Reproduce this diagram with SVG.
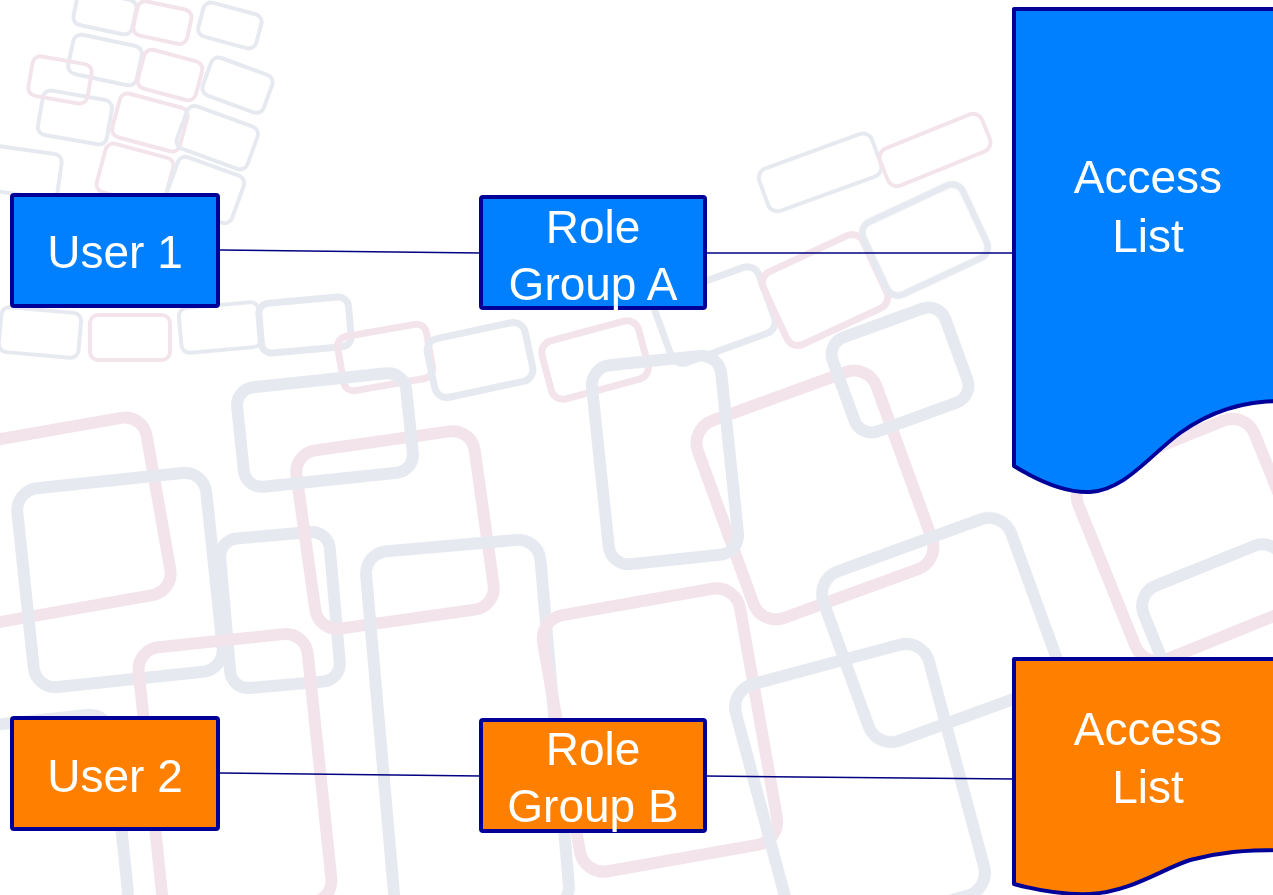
<svg xmlns="http://www.w3.org/2000/svg" width="1273" height="895" viewBox="0 0 1273 895">
<style>
.bg rect{fill:none;}
.g{stroke:#e3e6ee;}
.p{stroke:#f1e0e9;}
.s{stroke-width:4;}
.m{stroke-width:7;}
.l{stroke-width:12;}
.node{stroke:#000099;stroke-width:4;stroke-linejoin:round;}
.blue{fill:#0080ff;}
.orange{fill:#ff8000;}
.lbl{font-family:"Liberation Sans",Arial,sans-serif;font-size:46px;fill:#ffffff;text-anchor:middle;}
.conn{stroke:#000080;stroke-width:1.5;fill:none;}
</style>
<rect width="1273" height="895" fill="#ffffff"/>
<g id="background" class="bg" opacity="0.85">
<rect class="g s" x="75" y="-5" width="60" height="35" rx="8" transform="rotate(12 105 12)"/>
<rect class="p s" x="135" y="5" width="55" height="35" rx="8" transform="rotate(12 162 22)"/>
<rect class="g s" x="200" y="8" width="60" height="35" rx="8" transform="rotate(15 230 25)"/>
<rect class="g s" x="70" y="40" width="70" height="40" rx="8" transform="rotate(12 105 60)"/>
<rect class="p s" x="140" y="55" width="60" height="40" rx="8" transform="rotate(15 170 75)"/>
<rect class="g s" x="205" y="65" width="65" height="40" rx="8" transform="rotate(20 237 85)"/>
<rect class="g s" x="40" y="95" width="70" height="45" rx="8" transform="rotate(10 75 117)"/>
<rect class="p s" x="115" y="100" width="70" height="45" rx="8" transform="rotate(15 150 122)"/>
<rect class="g s" x="180" y="115" width="75" height="45" rx="8" transform="rotate(20 217 137)"/>
<rect class="g s" x="-10" y="150" width="70" height="45" rx="8" transform="rotate(8 25 172)"/>
<rect class="p s" x="100" y="150" width="70" height="50" rx="8" transform="rotate(15 135 175)"/>
<rect class="g s" x="170" y="165" width="70" height="50" rx="8" transform="rotate(20 205 190)"/>
<rect class="p s" x="30" y="60" width="60" height="40" rx="8" transform="rotate(10 60 80)"/>
<rect class="g s" x="0" y="310" width="80" height="45" rx="8" transform="rotate(5 40 332)"/>
<rect class="p s" x="90" y="315" width="80" height="45" rx="8" transform="rotate(0 130 337)"/>
<rect class="g s" x="180" y="305" width="80" height="45" rx="8" transform="rotate(-5 220 327)"/>
<rect class="g m" x="260" y="300" width="90" height="50" rx="10" transform="rotate(-5 305 325)"/>
<rect class="p m" x="340" y="330" width="90" height="55" rx="10" transform="rotate(-10 385 357)"/>
<rect class="g m" x="430" y="330" width="100" height="60" rx="12" transform="rotate(-12 480 360)"/>
<rect class="p m" x="545" y="330" width="100" height="60" rx="12" transform="rotate(-15 595 360)"/>
<rect class="g m" x="660" y="280" width="110" height="70" rx="12" transform="rotate(-20 715 315)"/>
<rect class="p m" x="770" y="250" width="110" height="80" rx="12" transform="rotate(-25 825 290)"/>
<rect class="g m" x="870" y="200" width="110" height="80" rx="12" transform="rotate(-25 925 240)"/>
<rect class="g s" x="760" y="150" width="120" height="45" rx="10" transform="rotate(-20 820 172)"/>
<rect class="p s" x="880" y="130" width="110" height="40" rx="10" transform="rotate(-22 935 150)"/>
<rect class="p l" x="-40" y="430" width="200" height="180" rx="22" transform="rotate(-10 60 520)"/>
<rect class="g l" x="25" y="480" width="190" height="200" rx="22" transform="rotate(-6 120 580)"/>
<rect class="g l" x="225" y="535" width="110" height="150" rx="18" transform="rotate(-5 280 610)"/>
<rect class="p l" x="305" y="440" width="180" height="180" rx="22" transform="rotate(-8 395 530)"/>
<rect class="g l" x="380" y="545" width="175" height="370" rx="22" transform="rotate(-5 467 730)"/>
<rect class="g l" x="240" y="380" width="170" height="100" rx="18" transform="rotate(-6 325 430)"/>
<rect class="p l" x="720" y="390" width="190" height="210" rx="24" transform="rotate(-20 815 495)"/>
<rect class="g l" x="840" y="320" width="120" height="100" rx="18" transform="rotate(-20 900 370)"/>
<rect class="g l" x="840" y="540" width="200" height="180" rx="24" transform="rotate(-20 940 630)"/>
<rect class="g l" x="600" y="360" width="130" height="200" rx="20" transform="rotate(-6 665 460)"/>
<rect class="p l" x="560" y="600" width="200" height="260" rx="24" transform="rotate(-10 660 730)"/>
<rect class="g l" x="760" y="660" width="200" height="260" rx="24" transform="rotate(-15 860 790)"/>
<rect class="p l" x="150" y="640" width="170" height="270" rx="22" transform="rotate(-6 235 775)"/>
<rect class="g l" x="-30" y="720" width="150" height="200" rx="22" transform="rotate(-6 45 820)"/>
<rect class="p l" x="1100" y="440" width="190" height="200" rx="24" transform="rotate(-22 1195 540)"/>
<rect class="g l" x="1160" y="560" width="150" height="160" rx="22" transform="rotate(-22 1235 640)"/>
<rect class="p m" x="1090" y="250" width="200" height="120" rx="18" transform="rotate(-25 1190 310)"/>
</g>
<g id="connectors">
<line class="conn" x1="220" y1="250" x2="481" y2="253"/>
<line class="conn" x1="705" y1="253" x2="1014" y2="253"/>
<line class="conn" x1="220" y1="773" x2="481" y2="776"/>
<line class="conn" x1="705" y1="776" x2="1014" y2="779"/>
</g>
<g id="user1">
<rect class="node blue" x="12" y="195" width="206" height="111" rx="2"/>
<text class="lbl" x="115" y="268">User 1</text>
</g>
<g id="roleGroupA">
<rect class="node blue" x="481" y="197" width="224" height="111" rx="2"/>
<text class="lbl" x="593" y="243">Role</text>
<text class="lbl" x="593" y="300">Group A</text>
</g>
<g id="accessListA">
<path class="node blue" d="M1014,9 H1280 V401 C1245,401 1212,410 1180,433 C1150,455 1125,490 1090,492 C1065,493 1040,482 1014,466 Z"/>
<text class="lbl" x="1148" y="193">Access</text>
<text class="lbl" x="1148" y="252">List</text>
</g>
<g id="user2">
<rect class="node orange" x="12" y="718" width="206" height="111" rx="2"/>
<text class="lbl" x="115" y="792">User 2</text>
</g>
<g id="roleGroupB">
<rect class="node orange" x="481" y="720" width="224" height="111" rx="2"/>
<text class="lbl" x="593" y="765">Role</text>
<text class="lbl" x="593" y="822">Group B</text>
</g>
<g id="accessListB">
<path class="node orange" d="M1014,659 H1280 V850 C1245,850 1220,852 1190,860 C1160,870 1130,892 1090,894 C1065,895 1040,891 1014,884 Z"/>
<text class="lbl" x="1148" y="745">Access</text>
<text class="lbl" x="1148" y="803">List</text>
</g>
</svg>
